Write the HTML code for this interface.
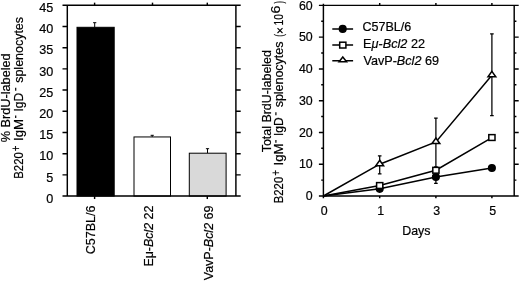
<!DOCTYPE html>
<html><head><meta charset="utf-8"><style>
html,body{margin:0;padding:0;background:#fff;}
body{width:520px;height:282px;overflow:hidden;font-family:"Liberation Sans",sans-serif;}
svg{display:block;position:absolute;left:0;top:0;will-change:transform;opacity:0.999;}
text{font-family:"Liberation Sans",sans-serif;fill:#000;stroke:#000;stroke-width:0.2px;}
</style></head><body>
<svg width="520" height="282" viewBox="0 0 520 282">
<rect width="520" height="282" fill="#fff"/>
<g stroke="#000" stroke-width="1.45" fill="none" stroke-linecap="butt">
<g stroke-width="1">
<path d="M94.7 27.3V22.7M93.10000000000001 22.7H96.3"/>
<rect x="77.0" y="27.3" width="37.20" height="168.75" fill="#000"/>
<path d="M152.2 136.95V135.3M150.6 135.3H153.79999999999998"/>
<rect x="134.0" y="136.95" width="36.50" height="59.10" fill="#fff"/>
<path d="M207.5 153.2V148.7M205.9 148.7H209.1"/>
<rect x="189.3" y="153.2" width="36.80" height="42.85" fill="#d9d9d9"/>
</g>
<path d="M62.5 5.25H240.70000000000002M62.5 196.05H240.70000000000002M67.3 5.25V196.05M235.9 5.25V196.05"/>
<path d="M62.5 174.85H67.3M235.9 174.85H240.70000000000002"/>
<path d="M62.5 153.65H67.3M235.9 153.65H240.70000000000002"/>
<path d="M62.5 132.45H67.3M235.9 132.45H240.70000000000002"/>
<path d="M62.5 111.25H67.3M235.9 111.25H240.70000000000002"/>
<path d="M62.5 90.05H67.3M235.9 90.05H240.70000000000002"/>
<path d="M62.5 68.85H67.3M235.9 68.85H240.70000000000002"/>
<path d="M62.5 47.65H67.3M235.9 47.65H240.70000000000002"/>
<path d="M62.5 26.45H67.3M235.9 26.45H240.70000000000002"/>
<path d="M94.6 2.65V5.25"/>
<path d="M152.5 2.65V5.25"/>
<path d="M207.3 2.65V5.25"/>
<path d="M94.6 196.05V199.05"/>
<path d="M207.3 196.05V199.05"/>
</g>
<text x="53.2" y="202.85" font-size="12.6" text-anchor="end">0</text>
<text x="53.2" y="181.65" font-size="12.6" text-anchor="end">5</text>
<text x="53.2" y="160.45" font-size="12.6" text-anchor="end">10</text>
<text x="53.2" y="139.25" font-size="12.6" text-anchor="end">15</text>
<text x="53.2" y="118.05" font-size="12.6" text-anchor="end">20</text>
<text x="53.2" y="96.85" font-size="12.6" text-anchor="end">25</text>
<text x="53.2" y="75.65" font-size="12.6" text-anchor="end">30</text>
<text x="53.2" y="54.45" font-size="12.6" text-anchor="end">35</text>
<text x="53.2" y="33.25" font-size="12.6" text-anchor="end">40</text>
<text x="53.2" y="11.70" font-size="12.6" text-anchor="end">45</text>
<text transform="translate(9.75,142.30) rotate(-90)" font-size="12.6" textLength="88.98" lengthAdjust="spacingAndGlyphs">% BrdU-labeled</text>
<text transform="translate(23.10,178.75) rotate(-90)" font-size="12.6" textLength="26.51" lengthAdjust="spacingAndGlyphs">B220</text>
<text transform="translate(19.50,151.25) rotate(-90)" font-size="12.6" textLength="5.64" lengthAdjust="spacingAndGlyphs">+</text>
<text transform="translate(23.10,141.00) rotate(-90)" font-size="12.6" textLength="22.13" lengthAdjust="spacingAndGlyphs">IgM</text>
<path d="M15.70 118.10V115.40" stroke="#000" stroke-width="1.2" fill="none"/>
<text transform="translate(23.10,111.50) rotate(-90)" font-size="12.6" textLength="18.71" lengthAdjust="spacingAndGlyphs">IgD</text>
<path d="M15.70 90.70V87.70" stroke="#000" stroke-width="1.2" fill="none"/>
<text transform="translate(23.10,82.80) rotate(-90)" font-size="12.6" textLength="65.81" lengthAdjust="spacingAndGlyphs">splenocytes</text>
<text transform="translate(95.10,254.20) rotate(-90)" font-size="12.6" textLength="48.62" lengthAdjust="spacingAndGlyphs">C57BL/6</text>
<text transform="translate(152.80,266.60) rotate(-90)" font-size="12.6" textLength="61.00" lengthAdjust="spacingAndGlyphs">E&#956;-<tspan font-style="italic">Bcl2</tspan> 22</text>
<text transform="translate(212.90,280.20) rotate(-90)" font-size="12.6" textLength="74.60" lengthAdjust="spacingAndGlyphs">VavP-<tspan font-style="italic">Bcl2</tspan> 69</text>
<g stroke="#000" stroke-width="1.45" fill="none">
<path d="M318.9 5.35H518.7M318.9 196.0H518.7M323.4 5.35V196.0M514.2 5.35V196.0"/>
<path d="M321.2 180.11H323.4M514.2 180.11H516.4000000000001"/>
<path d="M318.9 164.22H323.4M514.2 164.22H518.7"/>
<path d="M321.2 148.34H323.4M514.2 148.34H516.4000000000001"/>
<path d="M318.9 132.45H323.4M514.2 132.45H518.7"/>
<path d="M321.2 116.56H323.4M514.2 116.56H516.4000000000001"/>
<path d="M318.9 100.67H323.4M514.2 100.67H518.7"/>
<path d="M321.2 84.79H323.4M514.2 84.79H516.4000000000001"/>
<path d="M318.9 68.90H323.4M514.2 68.90H518.7"/>
<path d="M321.2 53.01H323.4M514.2 53.01H516.4000000000001"/>
<path d="M318.9 37.12H323.4M514.2 37.12H518.7"/>
<path d="M321.2 21.24H323.4M514.2 21.24H516.4000000000001"/>
<path d="M379.7 2.9499999999999997V5.35M379.7 196.0V198.2"/>
<path d="M435.9 2.9499999999999997V5.35M435.9 196.0V198.2"/>
<path d="M491.9 2.9499999999999997V5.35M491.9 196.0V198.2"/>
<path d="M323.4 196.0V198.2M323.4 3.7499999999999996V5.35"/>
<g stroke-width="1.5">
<g stroke-width="1.25">
<path d="M379.7 173.76V155.96M377.9 173.76H381.5M377.9 155.96H381.5"/>
<path d="M435.9 166.77V118.15M434.09999999999997 166.77H437.7M434.09999999999997 118.15H437.7"/>
<path d="M491.9 115.61V33.95M490.09999999999997 115.61H493.7M490.09999999999997 33.95H493.7"/>
<path d="M435.9 183.29V170.58M434.09999999999997 183.29H437.7M434.09999999999997 170.58H437.7"/>
</g>
<polyline points="323.40,196.00 379.70,188.85 435.90,176.94 491.90,168.04"/>
<polyline points="323.40,196.00 379.70,185.51 435.90,170.26 491.90,137.53"/>
<polyline points="323.40,196.00 379.70,164.22 435.90,141.98 491.90,75.26"/>
<circle cx="379.7" cy="188.85" r="3.3" fill="#000"/>
<circle cx="435.9" cy="176.94" r="3.3" fill="#000"/>
<circle cx="491.9" cy="168.04" r="3.3" fill="#000"/>
<rect x="376.59999999999997" y="182.61" width="6.2" height="5.8" fill="#fff"/>
<rect x="432.79999999999995" y="167.36" width="6.2" height="5.8" fill="#fff"/>
<rect x="488.79999999999995" y="134.63" width="6.2" height="5.8" fill="#fff"/>
<path d="M379.7 160.28L383.59999999999997 165.78H375.8Z" fill="#fff"/>
<path d="M435.9 138.03L439.79999999999995 143.53H432.0Z" fill="#fff"/>
<path d="M491.9 71.31L495.79999999999995 76.81H488.0Z" fill="#fff"/>
<path d="M332.3 28.9H353.1M332.3 45H353.1M332.3 60.8H353.1"/>
<circle cx="342.7" cy="28.9" r="3.3" fill="#000"/>
<rect x="339.7" y="42.2" width="6.2" height="5.8" fill="#fff"/>
<path d="M342.8 57.0L346.55 61.7H339.05Z" fill="#fff"/>
</g></g>
<text x="362.50" y="30.60" font-size="12.4" textLength="48.77" lengthAdjust="spacingAndGlyphs">C57BL/6</text>
<text x="363.10" y="48.10" font-size="12.4" textLength="61.90" lengthAdjust="spacingAndGlyphs">E<tspan font-style="italic">&#956;</tspan>-<tspan font-style="italic">Bcl2</tspan> 22</text>
<text x="363.40" y="65.00" font-size="12.4" textLength="75.60" lengthAdjust="spacingAndGlyphs">VavP-<tspan font-style="italic">Bcl2</tspan> 69</text>
<text x="312.7" y="200.20" font-size="12.4" text-anchor="end">0</text>
<text x="312.7" y="168.42" font-size="12.4" text-anchor="end">10</text>
<text x="312.7" y="136.65" font-size="12.4" text-anchor="end">20</text>
<text x="312.7" y="104.88" font-size="12.4" text-anchor="end">30</text>
<text x="312.7" y="73.10" font-size="12.4" text-anchor="end">40</text>
<text x="312.7" y="41.33" font-size="12.4" text-anchor="end">50</text>
<text x="312.7" y="10.00" font-size="12.4" text-anchor="end">60</text>
<text x="324.29999999999995" y="215.1" font-size="12.4" text-anchor="middle">0</text>
<text x="380.59999999999997" y="215.1" font-size="12.4" text-anchor="middle">1</text>
<text x="436.79999999999995" y="215.1" font-size="12.4" text-anchor="middle">3</text>
<text x="492.79999999999995" y="215.1" font-size="12.4" text-anchor="middle">5</text>
<text x="402.20" y="234.60" font-size="12.4" textLength="28.28" lengthAdjust="spacingAndGlyphs">Days</text>
<text transform="translate(270.60,152.30) rotate(-90)" font-size="12.4" textLength="102.22" lengthAdjust="spacingAndGlyphs">Total BrdU-labeled</text>
<text transform="translate(283.30,203.30) rotate(-90)" font-size="12.4" textLength="26.51" lengthAdjust="spacingAndGlyphs">B220</text>
<text transform="translate(279.70,175.80) rotate(-90)" font-size="12.4" textLength="5.64" lengthAdjust="spacingAndGlyphs">+</text>
<text transform="translate(283.30,165.55) rotate(-90)" font-size="12.4" textLength="22.13" lengthAdjust="spacingAndGlyphs">IgM</text>
<path d="M275.90 142.65V139.95" stroke="#000" stroke-width="1.2" fill="none"/>
<text transform="translate(283.30,136.05) rotate(-90)" font-size="12.4" textLength="18.71" lengthAdjust="spacingAndGlyphs">IgD</text>
<path d="M275.90 115.25V112.25" stroke="#000" stroke-width="1.2" fill="none"/>
<text transform="translate(283.30,107.35) rotate(-90)" font-size="12.4" textLength="65.81" lengthAdjust="spacingAndGlyphs">splenocytes</text>
<text transform="translate(283.30,36.80) rotate(-90)" font-size="12.4" textLength="2.78" lengthAdjust="spacingAndGlyphs">(</text>
<text transform="translate(283.30,25.50) rotate(-90)" font-size="12.4" textLength="11.32" lengthAdjust="spacingAndGlyphs">10</text>
<text transform="translate(279.60,13.60) rotate(-90)" font-size="12.4" textLength="7.92" lengthAdjust="spacingAndGlyphs">6</text>
<text transform="translate(283.30,3.60) rotate(-90)" font-size="12.4" textLength="2.49" lengthAdjust="spacingAndGlyphs">)</text>
<path d="M277.5 28.2L282.5 33.0M277.5 33.0L282.5 28.2" stroke="#000" stroke-width="1.05" fill="none"/>
</svg></body></html>
